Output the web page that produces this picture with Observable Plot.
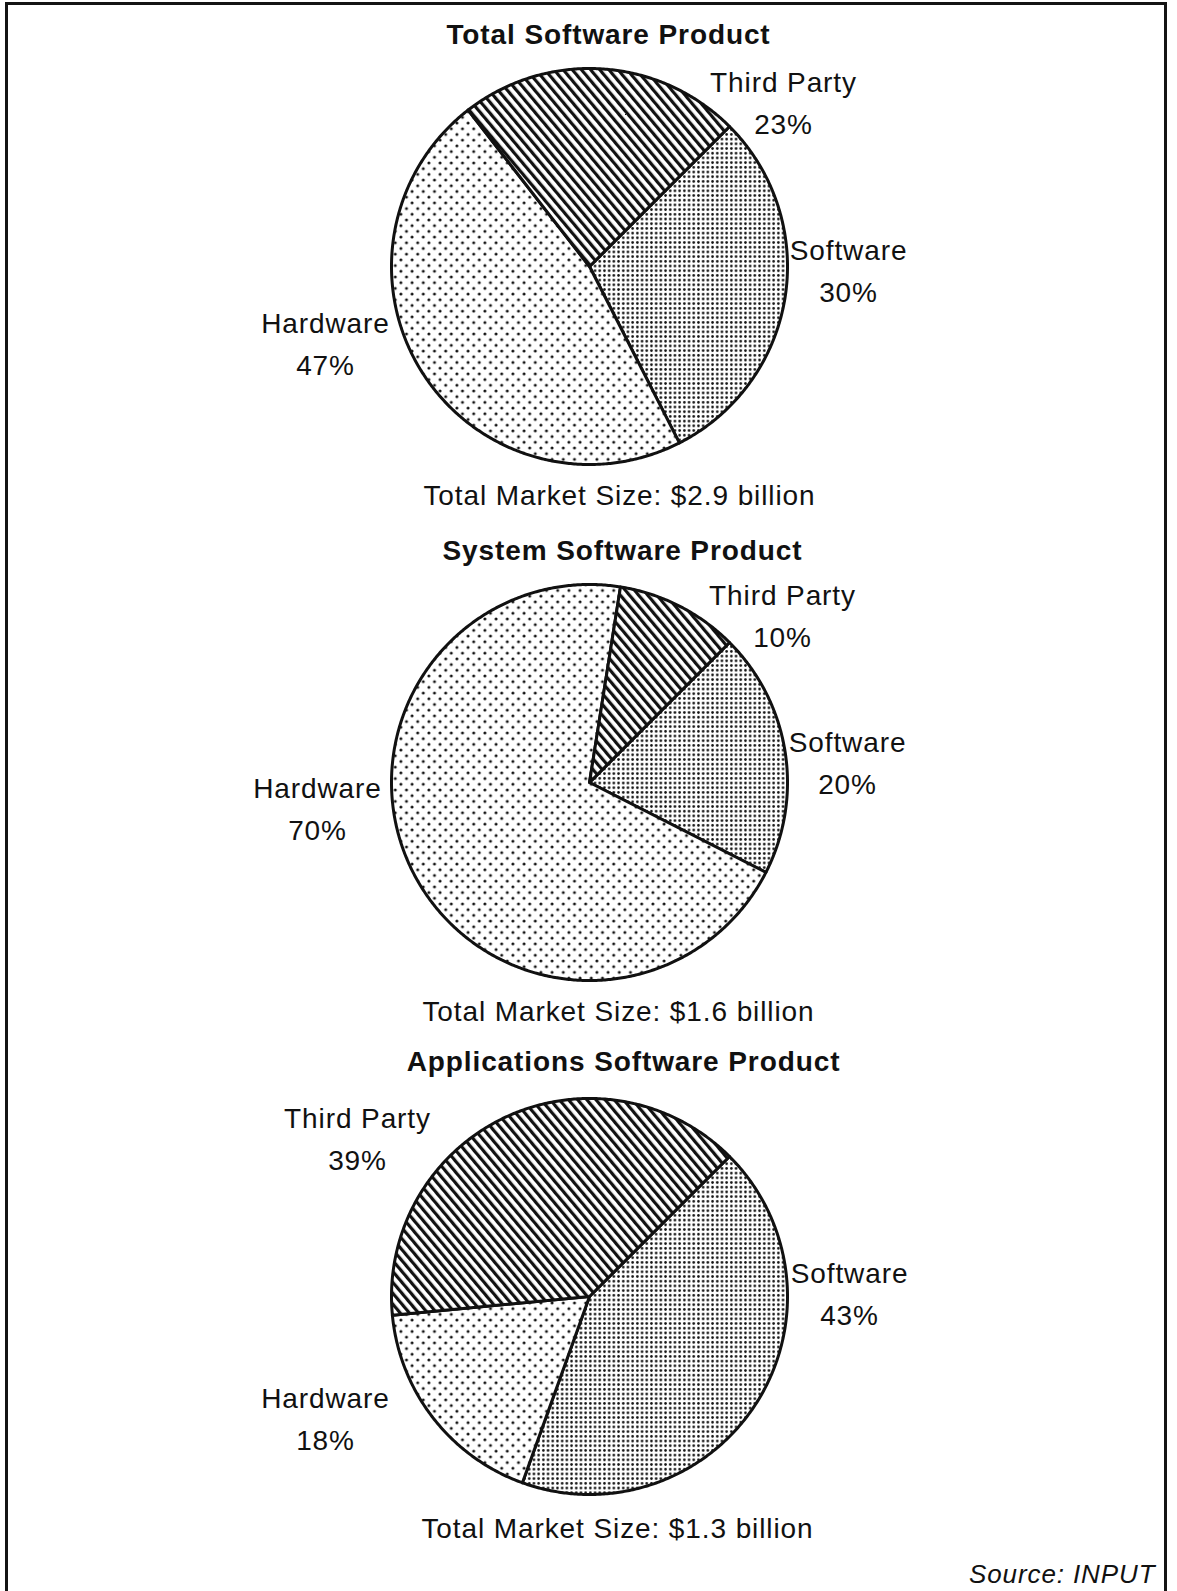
<!DOCTYPE html>
<html>
<head>
<meta charset="utf-8">
<script src="https://cdn.jsdelivr.net/npm/d3@7"></script>
<script src="https://cdn.jsdelivr.net/npm/@observablehq/plot@0.6"></script>
<style>
  html, body { margin: 0; padding: 0; background: #fff; }
  #chart svg { display: block; }
  svg.pies text { letter-spacing: 0.9px; }
  svg.pies g[aria-label="title"] text { letter-spacing: 1.3px; }
  svg.pies g[aria-label="source"] text { letter-spacing: 0.6px; }
</style>
</head>
<body>
<div id="chart"></div>
<script>
// Software product revenue split by supplier type, three market views
const charts = ["Total Software Product", "System Software Product", "Applications Software Product"];
const segments = ["Software", "Hardware", "Third Party"];
const softwareShare = [30, 20, 43];
const hardwareShare = [47, 70, 18];
const thirdPartyShare = [23, 10, 39];
const marketSizeBillions = [2.9, 1.6, 1.3];
const sourceNote = "Source: INPUT";

// ---- layout ----
const W = 1177, H = 1591;
const pieX = 589;
const pieY = [266, 782, 1296];
const pieR = 198;
const titlePos = [[608, 43], [622, 559], [623, 1070]];
const marketPos = [[619, 504], [618, 1020], [617, 1537]];
const labelPos = {
  "Software":    [[848, 259], [847, 751], [849, 1282]],
  "Hardware":    [[325, 332], [317, 797], [325, 1407]],
  "Third Party": [[783, 91],  [782, 604], [357, 1127]]
};
const lineGap = 42.5;
const sourcePos = [1155, 1582];

const shares = {"Software": softwareShare, "Hardware": hardwareShare, "Third Party": thirdPartyShare};
const fills = {"Software": "url(#dots-dense)", "Hardware": "url(#dots-sparse)", "Third Party": "url(#hatch)"};

// slices start at 45° and run clockwise: Software, Hardware, Third Party
const pie = d3.pie().sort(null).value(d => d.value)
  .startAngle(Math.PI / 4).endAngle(Math.PI / 4 + 2 * Math.PI);

const slicePoints = [];
charts.forEach((chart, i) => {
  const rows = segments.map(s => ({segment: s, value: shares[s][i]}));
  pie(rows).forEach(a => {
    const id = chart + " / " + a.data.segment;
    const cx = pieX, cy = pieY[i];
    slicePoints.push({id, segment: a.data.segment, x: cx, y: cy});
    const n = Math.max(2, Math.ceil((a.endAngle - a.startAngle) / (Math.PI / 360)));
    for (let k = 0; k <= n; k++) {
      const t = a.startAngle + (a.endAngle - a.startAngle) * k / n;
      slicePoints.push({id, segment: a.data.segment, x: cx + pieR * Math.sin(t), y: cy - pieR * Math.cos(t)});
    }
  });
});

const titleRows = charts.map((c, i) => ({text: c, x: titlePos[i][0], y: titlePos[i][1]}));
const marketRows = marketSizeBillions.map((v, i) => ({
  text: `Total Market Size: $${v.toFixed(1)} billion`, x: marketPos[i][0], y: marketPos[i][1]
}));
const labelRows = charts.flatMap((c, i) => segments.flatMap(s => [
  {text: s, x: labelPos[s][i][0], y: labelPos[s][i][1]},
  {text: `${shares[s][i]}%`, x: labelPos[s][i][0], y: labelPos[s][i][1] + lineGap}
]));

const plot = Plot.plot({
  width: W,
  height: H,
  margin: 0,
  className: "pies",
  style: {fontFamily: "'Liberation Sans', Arial, Helvetica, sans-serif", background: "#fff", color: "#111"},
  x: {domain: [0, W], range: [0, W], axis: null},
  y: {domain: [0, H], range: [0, H], axis: null},
  marks: [
    Plot.frame({stroke: "#141414", strokeWidth: 3, insetLeft: 6, insetTop: 3, insetRight: 12, insetBottom: -10}),
    ...segments.map(s => Plot.line(slicePoints.filter(d => d.segment === s), {
      x: "x", y: "y", z: "id", curve: "linear-closed",
      fill: fills[s], stroke: "#111", strokeWidth: 3, strokeLinejoin: "round"
    })),
    Plot.text(titleRows, {x: "x", y: "y", text: "text", fontSize: 28, fontWeight: "bold", lineAnchor: "bottom", fill: "#111", ariaLabel: "title"}),
    Plot.text(labelRows, {x: "x", y: "y", text: "text", fontSize: 28, lineAnchor: "bottom", fill: "#111"}),
    Plot.text(marketRows, {x: "x", y: "y", text: "text", fontSize: 28, lineAnchor: "bottom", fill: "#111"}),
    Plot.text([sourceNote], {x: () => sourcePos[0], y: () => sourcePos[1], text: d => d, fontSize: 26, fontStyle: "italic", textAnchor: "end", lineAnchor: "bottom", fill: "#111", ariaLabel: "source"})
  ]
});

// fill patterns for the slices
const defs = d3.select(plot).insert("defs", ":first-child");

const hatch = defs.append("pattern").attr("id", "hatch")
  .attr("patternUnits", "userSpaceOnUse").attr("width", 7).attr("height", 7)
  .attr("patternTransform", "rotate(-40)");
hatch.append("rect").attr("width", 7).attr("height", 7).attr("fill", "#fff");
hatch.append("rect").attr("width", 3.2).attr("height", 7).attr("fill", "#111");

const dense = defs.append("pattern").attr("id", "dots-dense")
  .attr("patternUnits", "userSpaceOnUse").attr("width", 4.7).attr("height", 4.7);
dense.append("rect").attr("width", 4.7).attr("height", 4.7).attr("fill", "#fff");
dense.append("circle").attr("cx", 2.35).attr("cy", 2.35).attr("r", 1.3).attr("fill", "#111");

const sparse = defs.append("pattern").attr("id", "dots-sparse")
  .attr("patternUnits", "userSpaceOnUse").attr("width", 11.2).attr("height", 11.4);
sparse.append("rect").attr("width", 11.2).attr("height", 11.4).attr("fill", "#fff");
sparse.append("circle").attr("cx", 2.8).attr("cy", 2.85).attr("r", 1.5).attr("fill", "#111");
sparse.append("circle").attr("cx", 8.4).attr("cy", 8.55).attr("r", 1.5).attr("fill", "#111");

document.getElementById("chart").appendChild(plot);
</script>
</body>
</html>
